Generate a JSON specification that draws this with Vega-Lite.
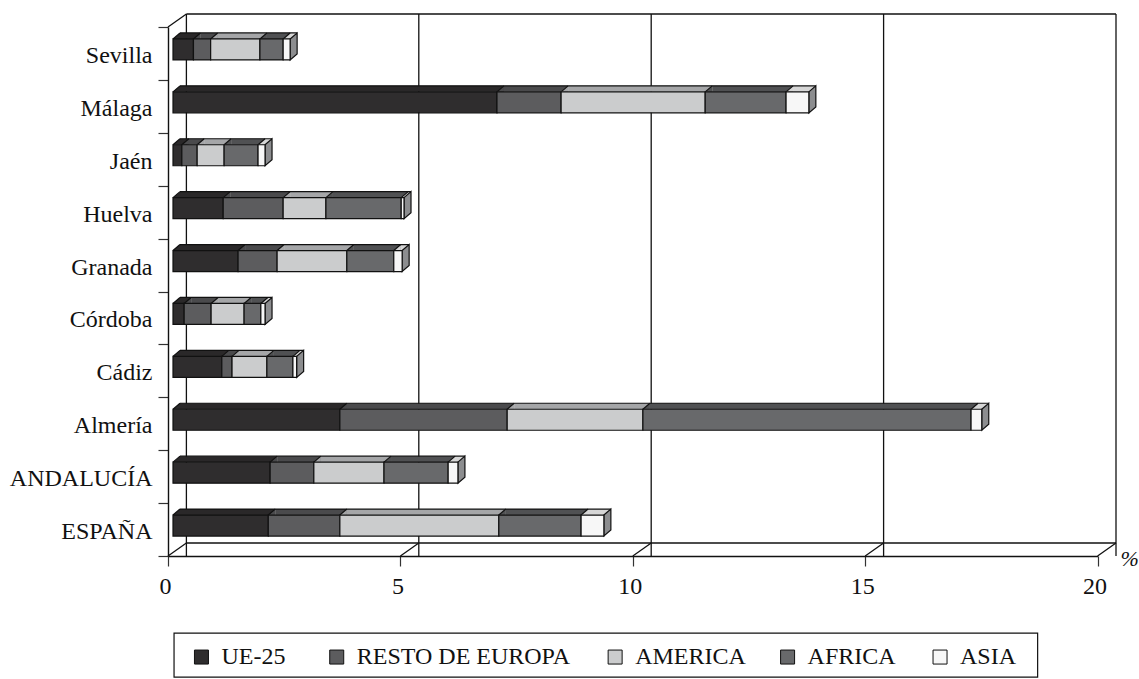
{
"$schema":"https://vega.github.io/schema/vega-lite/v6.json",
"width":929.6,"height":529,
"autosize":{"type":"none"},
"padding":{"left":168,"top":27,"right":41.4,"bottom":123},
"background":"white",
"config":{"view":{"stroke":null},"font":"Liberation Serif"},
"datasets":{
"rows":[
{"cat":"Sevilla","ord":1,"region":"UE-25","v":0.44},{"cat":"Sevilla","ord":2,"region":"RESTO DE EUROPA","v":0.37},{"cat":"Sevilla","ord":3,"region":"AMERICA","v":1.06},{"cat":"Sevilla","ord":4,"region":"AFRICA","v":0.5},{"cat":"Sevilla","ord":5,"region":"ASIA","v":0.15},
{"cat":"Málaga","ord":1,"region":"UE-25","v":6.97},{"cat":"Málaga","ord":2,"region":"RESTO DE EUROPA","v":1.38},{"cat":"Málaga","ord":3,"region":"AMERICA","v":3.1},{"cat":"Málaga","ord":4,"region":"AFRICA","v":1.74},{"cat":"Málaga","ord":5,"region":"ASIA","v":0.49},
{"cat":"Jaén","ord":1,"region":"UE-25","v":0.19},{"cat":"Jaén","ord":2,"region":"RESTO DE EUROPA","v":0.33},{"cat":"Jaén","ord":3,"region":"AMERICA","v":0.58},{"cat":"Jaén","ord":4,"region":"AFRICA","v":0.73},{"cat":"Jaén","ord":5,"region":"ASIA","v":0.15},
{"cat":"Huelva","ord":1,"region":"UE-25","v":1.08},{"cat":"Huelva","ord":2,"region":"RESTO DE EUROPA","v":1.29},{"cat":"Huelva","ord":3,"region":"AMERICA","v":0.92},{"cat":"Huelva","ord":4,"region":"AFRICA","v":1.62},{"cat":"Huelva","ord":5,"region":"ASIA","v":0.06},
{"cat":"Granada","ord":1,"region":"UE-25","v":1.4},{"cat":"Granada","ord":2,"region":"RESTO DE EUROPA","v":0.84},{"cat":"Granada","ord":3,"region":"AMERICA","v":1.5},{"cat":"Granada","ord":4,"region":"AFRICA","v":1.01},{"cat":"Granada","ord":5,"region":"ASIA","v":0.18},
{"cat":"Córdoba","ord":1,"region":"UE-25","v":0.24},{"cat":"Córdoba","ord":2,"region":"RESTO DE EUROPA","v":0.58},{"cat":"Córdoba","ord":3,"region":"AMERICA","v":0.71},{"cat":"Córdoba","ord":4,"region":"AFRICA","v":0.36},{"cat":"Córdoba","ord":5,"region":"ASIA","v":0.09},
{"cat":"Cádiz","ord":1,"region":"UE-25","v":1.05},{"cat":"Cádiz","ord":2,"region":"RESTO DE EUROPA","v":0.22},{"cat":"Cádiz","ord":3,"region":"AMERICA","v":0.75},{"cat":"Cádiz","ord":4,"region":"AFRICA","v":0.56},{"cat":"Cádiz","ord":5,"region":"ASIA","v":0.08},
{"cat":"Almería","ord":1,"region":"UE-25","v":3.59},{"cat":"Almería","ord":2,"region":"RESTO DE EUROPA","v":3.6},{"cat":"Almería","ord":3,"region":"AMERICA","v":2.92},{"cat":"Almería","ord":4,"region":"AFRICA","v":7.06},{"cat":"Almería","ord":5,"region":"ASIA","v":0.23},
{"cat":"ANDALUCÍA","ord":1,"region":"UE-25","v":2.09},{"cat":"ANDALUCÍA","ord":2,"region":"RESTO DE EUROPA","v":0.94},{"cat":"ANDALUCÍA","ord":3,"region":"AMERICA","v":1.51},{"cat":"ANDALUCÍA","ord":4,"region":"AFRICA","v":1.38},{"cat":"ANDALUCÍA","ord":5,"region":"ASIA","v":0.21},
{"cat":"ESPAÑA","ord":1,"region":"UE-25","v":2.05},{"cat":"ESPAÑA","ord":2,"region":"RESTO DE EUROPA","v":1.54},{"cat":"ESPAÑA","ord":3,"region":"AMERICA","v":3.42},{"cat":"ESPAÑA","ord":4,"region":"AFRICA","v":1.77},{"cat":"ESPAÑA","ord":5,"region":"ASIA","v":0.49}
],
"gridRows":[{"cat":"Sevilla","last":"ESPAÑA","tick":0},{"cat":"Sevilla","last":"ESPAÑA","tick":5},{"cat":"Sevilla","last":"ESPAÑA","tick":10},{"cat":"Sevilla","last":"ESPAÑA","tick":15},{"cat":"Sevilla","last":"ESPAÑA","tick":20}],
"boxRow":[{"cat":"ESPAÑA","first":"Sevilla","last":"ESPAÑA","from":0.13,"to":18.71,"start":0,"end":20}],
"legendRows":[{"cat":"ESPAÑA","region":"UE-25","pos":0.72},{"cat":"ESPAÑA","region":"RESTO DE EUROPA","pos":3.63},{"cat":"ESPAÑA","region":"AMERICA","pos":9.62},{"cat":"ESPAÑA","region":"AFRICA","pos":13.33},{"cat":"ESPAÑA","region":"ASIA","pos":16.61}]
},
"layer":[
{"data":{"name":"boxRow"},
 "mark":{"type":"bar","height":44,"fill":"white","stroke":"#111","strokeWidth":1.2,"yOffset":125.5,"clip":false},
 "encoding":{"x":{"field":"from","type":"quantitative","scale":{"domain":[0,20],"nice":false,"zero":false},"axis":{"values":[0,5,10,15,20],"title":null,"grid":false,"labelFont":"Liberation Serif","labelFontSize":24,"labelColor":"#111","labelOffset":-3,"labelFlush":false,"labelPadding":8,"tickSize":10,"tickColor":"#333","domainColor":"#111","domainWidth":1.4,"tickWidth":1.2,"format":"d"}},"x2":{"field":"to"},
 "y":{"field":"cat","type":"nominal","scale":{"domain":["Sevilla","Málaga","Jaén","Huelva","Granada","Córdoba","Cádiz","Almería","ANDALUCÍA","ESPAÑA"],"paddingInner":0,"paddingOuter":0},"axis":{"title":null,"grid":false,"labelFont":"Liberation Serif","labelFontSize":24,"labelColor":"#111","labelPadding":6,"labelOffset":2,"tickSize":10,"tickBand":"extent","tickColor":"#333","domainColor":"#111","domainWidth":1.4,"tickWidth":1.2}}}},
{"data":{"name":"legendRows"},
 "mark":{"type":"point","shape":"square","size":196,"filled":true,"stroke":"#111","strokeWidth":1,"opacity":1,"yOffset":127.5},
 "encoding":{"x":{"field":"pos","type":"quantitative"},"y":{"field":"cat","type":"nominal"},
 "color":{"field":"region","type":"nominal","legend":null,"scale":{"domain":["UE-25","RESTO DE EUROPA","AMERICA","AFRICA","ASIA"],"range":["#2f2d2e","#5c5c5e","#cbcccd","#68696b","#f7f7f7"]}}}},
{"data":{"name":"legendRows"},
 "mark":{"type":"text","align":"left","baseline":"middle","dx":20,"font":"Liberation Serif","fontSize":24,"color":"#111","yOffset":127.5},
 "encoding":{"x":{"field":"pos","type":"quantitative"},"y":{"field":"cat","type":"nominal"},"text":{"field":"region"}}},
{"data":{"name":"gridRows"},
 "mark":{"type":"rule","stroke":"#111","strokeWidth":1.3,"xOffset":18.4,"yOffset":-13,"y2Offset":-13},
 "encoding":{"x":{"field":"tick","type":"quantitative"}}},
{"data":{"name":"boxRow"},
 "mark":{"type":"rule","stroke":"#111","strokeWidth":1.3,"xOffset":18.4,"x2Offset":18.4,"yOffset":-13},
 "encoding":{"x":{"field":"start","type":"quantitative"},"x2":{"field":"end"},"y":{"field":"last","type":"nominal","bandPosition":1}}},
{"data":{"name":"boxRow"},
 "mark":{"type":"rule","stroke":"#111","strokeWidth":1.3,"xOffset":18.4,"x2Offset":18.4,"yOffset":-13},
 "encoding":{"x":{"field":"start","type":"quantitative"},"x2":{"field":"end"},"y":{"field":"first","type":"nominal","bandPosition":0}}},
{"data":{"name":"gridRows"},
 "mark":{"type":"point","shape":"M0,0L18.4,-13","size":4,"filled":false,"stroke":"#111","strokeWidth":1.3,"opacity":1},
 "encoding":{"x":{"field":"tick","type":"quantitative"},"y":{"field":"last","type":"nominal","bandPosition":1}}},
{"data":{"name":"gridRows"},"transform":[{"filter":"datum.tick==0"}],
 "mark":{"type":"point","shape":"M0,0L18.4,-13","size":4,"filled":false,"stroke":"#111","strokeWidth":1.3,"opacity":1},
 "encoding":{"x":{"field":"tick","type":"quantitative"},"y":{"field":"cat","type":"nominal","bandPosition":0}}},
{"data":{"name":"gridRows"},"transform":[{"filter":"datum.tick==20"}],
 "mark":{"type":"text","text":"%","font":"Liberation Serif","fontSize":22,"fontStyle":"italic","dx":32,"dy":3,"color":"#111"},
 "encoding":{"x":{"field":"tick","type":"quantitative"},"y":{"field":"last","type":"nominal","bandPosition":1}}},
{"data":{"name":"rows"},"transform":[{"stack":"v","groupby":["cat"],"sort":[{"field":"ord"}],"as":["x0","x1"]}],
 "mark":{"type":"bar","height":6,"xOffset":12,"x2Offset":12,"yOffset":-17.5},
 "encoding":{"x":{"field":"x0","type":"quantitative"},"x2":{"field":"x1"},"y":{"field":"cat","type":"nominal"},
 "fill":{"field":"region","type":"nominal","legend":null,"scale":{"domain":["UE-25","RESTO DE EUROPA","AMERICA","AFRICA","ASIA"],"range":["#2a2829","#4a4a4c","#a5a6a8","#505153","#d6d6d6"]}}}},
{"data":{"name":"rows"},"transform":[{"stack":"v","groupby":["cat"],"sort":[{"field":"ord"}],"as":["x0","x1"]}],
 "mark":{"type":"point","shape":"M0,0L7,-6L7,0Z","size":4,"filled":true,"opacity":1,"xOffset":5,"yOffset":-14.5},
 "encoding":{"x":{"field":"x0","type":"quantitative"},"y":{"field":"cat","type":"nominal"},
 "fill":{"field":"region","type":"nominal","legend":null,"scale":{"domain":["UE-25","RESTO DE EUROPA","AMERICA","AFRICA","ASIA"],"range":["#2a2829","#4a4a4c","#a5a6a8","#505153","#d6d6d6"]}}}},
{"data":{"name":"rows"},"transform":[{"stack":"v","groupby":["cat"],"sort":[{"field":"ord"}],"as":["x0","x1"]},{"filter":"datum.ord==5"}],
 "mark":{"type":"point","shape":"M0,0L7,-6L7,15L0,21Z","size":4,"filled":true,"fill":"#8c8d8f","stroke":"#111","strokeWidth":1.2,"opacity":1,"xOffset":5,"yOffset":-14.5},
 "encoding":{"x":{"field":"x1","type":"quantitative"},"y":{"field":"cat","type":"nominal"}}},
{"data":{"name":"rows"},"transform":[{"stack":"v","groupby":["cat"],"sort":[{"field":"ord"}],"as":["x0","x1"]},{"joinaggregate":[{"op":"max","field":"x1","as":"total"}],"groupby":["cat"]},{"filter":"datum.ord==1"}],
 "mark":{"type":"rule","stroke":"#111","strokeWidth":1.2,"xOffset":12,"x2Offset":12,"yOffset":-20.5},
 "encoding":{"x":{"field":"x0","type":"quantitative"},"x2":{"field":"total"},"y":{"field":"cat","type":"nominal"}}},
{"data":{"name":"rows"},"transform":[{"stack":"v","groupby":["cat"],"sort":[{"field":"ord"}],"as":["x0","x1"]}],
 "mark":{"type":"point","shape":"M0,0L7,-6","size":4,"filled":false,"stroke":"#111","strokeWidth":1.2,"opacity":1,"xOffset":5,"yOffset":-14.5},
 "encoding":{"x":{"field":"x0","type":"quantitative"},"y":{"field":"cat","type":"nominal"}}},
{"data":{"name":"rows"},"transform":[{"stack":"v","groupby":["cat"],"sort":[{"field":"ord"}],"as":["x0","x1"]}],
 "mark":{"type":"bar","height":21,"xOffset":5,"x2Offset":5,"yOffset":-4,"stroke":"#111","strokeWidth":1.2},
 "encoding":{"x":{"field":"x0","type":"quantitative"},"x2":{"field":"x1"},"y":{"field":"cat","type":"nominal"},
 "color":{"field":"region","type":"nominal","legend":null,"scale":{"domain":["UE-25","RESTO DE EUROPA","AMERICA","AFRICA","ASIA"],"range":["#2f2d2e","#5c5c5e","#cbcccd","#68696b","#f7f7f7"]}}}}
]
}
